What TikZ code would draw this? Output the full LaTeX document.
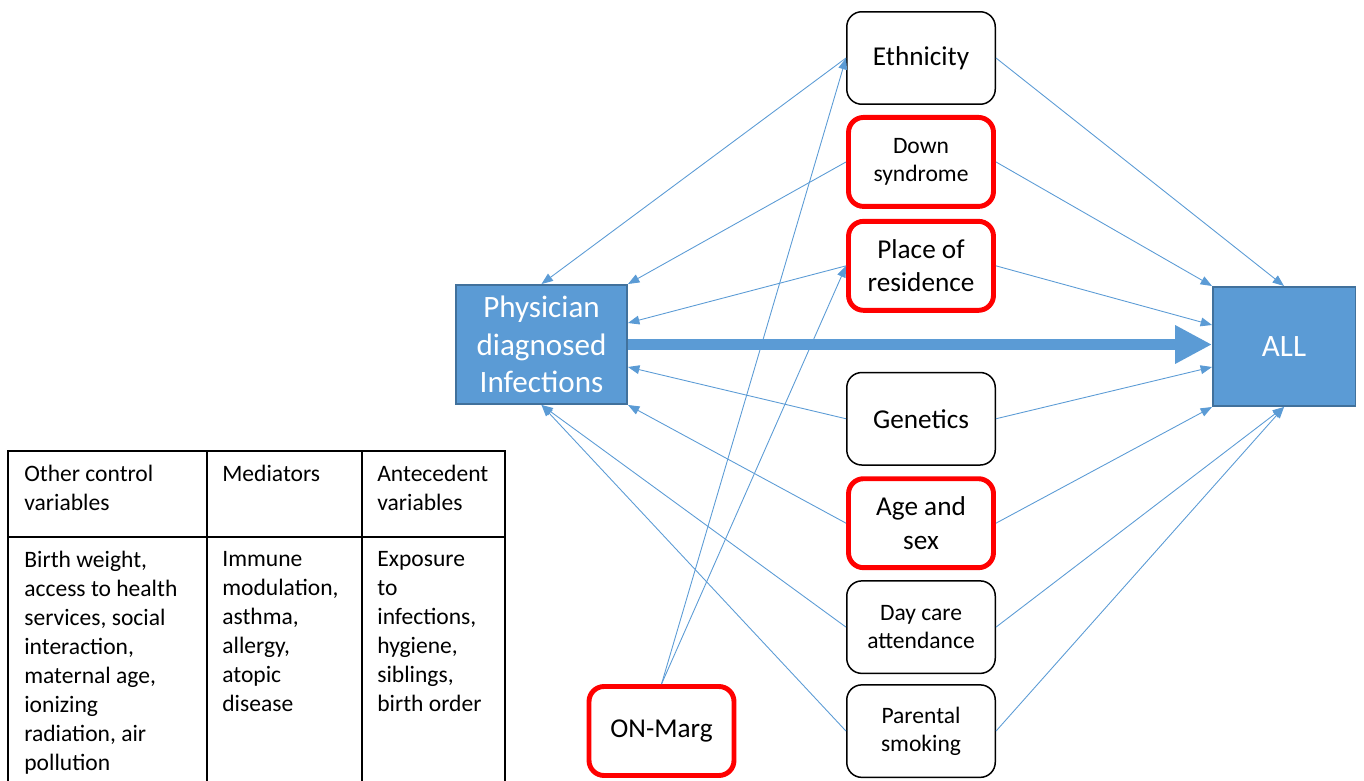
\documentclass[tikz,border=0pt]{standalone}
\usepackage{fontspec}
\setmainfont{Carlito}
\usetikzlibrary{positioning,arrows.meta}
\definecolor{boxblue}{HTML}{5B9BD5}
\definecolor{boxedge}{HTML}{41719C}

\begin{document}
\begin{tikzpicture}[x=0.02cm, y=-0.02cm, node distance={2mm},
    var/.style = {draw, rounded corners=0.3cm, line width=0.85pt, minimum width=2.97cm, minimum height=1.85cm, align=center, font={\fontsize{15.5}{19}\selectfont}},
    smallvar/.style = {var, font={\fontsize{13.4}{16}\selectfont}},
    marked/.style = {draw=red, line width=2.8pt, minimum width=2.9cm, minimum height=1.78cm},
    outcome/.style = {draw=boxedge, fill=boxblue, line width=0.85pt, text=white, align=center, minimum height=2.39cm, font={\fontsize{17.7}{21.4}\selectfont}},
    link/.style = {draw=boxblue, line width=0.5pt, -{Triangle[length=6.5pt, width=5pt]}},
    cell/.style = {anchor=north west, inner sep=0pt, align=left, font={\fontsize{13.4}{16.5}\selectfont}}]
    \useasboundingbox (0,0) rectangle (1364,780);
    % exposure and outcome
    \node[outcome, minimum width=3.43cm] (phys) at (541.5,344.5) {Physician\\diagnosed\\Infections};
    \node[outcome, minimum width=2.85cm] (all) at (1284,346.5) {ALL};
    % covariates
    \node[var] (eth) at (921,58) {Ethnicity};
    \node[smallvar, marked] (down) [below=of eth] {Down\\syndrome};
    \node[var, marked] (resid) [below=of down] {Place of\\residence};
    \node[var] (genet) [below=11.8mm of resid] {Genetics};
    \node[var, marked] (agesex) [below=2.1mm of genet] {Age and\\sex};
    \node[smallvar] (daycare) [below=of agesex] {Day care\\attendance};
    \node[smallvar] (smoking) [below=of daycare] {Parental\\smoking};
    \node[var, marked] (onmarg) at (661.5,731) {ON-Marg};
    % main effect
    \draw[boxblue, line width=6.8pt, -{Triangle[length=21pt, width=20.5pt]}] (phys.east) -- (phys.east -| all.west);
    % paths to exposure
    \draw[link] (eth.west) -- (phys.north);
    \draw[link] (down.west) -- (phys.north east);
    \draw[link] (resid.west) -- ([yshift=0.43cm]phys.east);
    \draw[link] (genet.west) -- ([yshift=-0.45cm]phys.east);
    \draw[link] (agesex.west) -- (phys.south east);
    \draw[link] (daycare.west) -- (phys.south);
    \draw[link] (smoking.west) -- (phys.south);
    % paths to outcome
    \draw[link] (eth.east) -- (all.north);
    \draw[link] (down.east) -- (all.north west);
    \draw[link] (resid.east) -- ([yshift=0.43cm]all.west);
    \draw[link] (genet.east) -- ([yshift=-0.41cm]all.west);
    \draw[link] (agesex.east) -- (all.south west);
    \draw[link] (daycare.east) -- (all.south);
    \draw[link] (smoking.east) -- (all.south);
    \draw[link] (onmarg.north) -- (eth.west);
    \draw[link] (onmarg.north) -- (resid.west);
    % legend table
    \draw[line width=1.1pt] (8,800) -- (8,451) -- (505,451) -- (505,800);
    \draw[line width=1.1pt] (207,451) -- (207,800);
    \draw[line width=1.1pt] (362,451) -- (362,800);
    \draw[line width=1.1pt] (8,537) -- (505,537);
    \node[cell] (hctrl) at (24,465) {Other control\\variables};
    \node[cell] (hmed) at (222,465) {Mediators};
    \node[cell] (hante) at (377,465) {Antecedent\\variables};
    \node[cell] (bctrl) at (24,551) {Birth weight,\\access to health\\services, social\\interaction,\\maternal age,\\ionizing\\radiation, air\\pollution};
    \node[cell] (bmed) at (222,551) {Immune\\modulation,\\asthma,\\allergy,\\atopic\\disease};
    \node[cell] (bante) at (377,551) {Exposure\\to\\infections,\\hygiene,\\siblings,\\birth order};
\end{tikzpicture}
\end{document}
